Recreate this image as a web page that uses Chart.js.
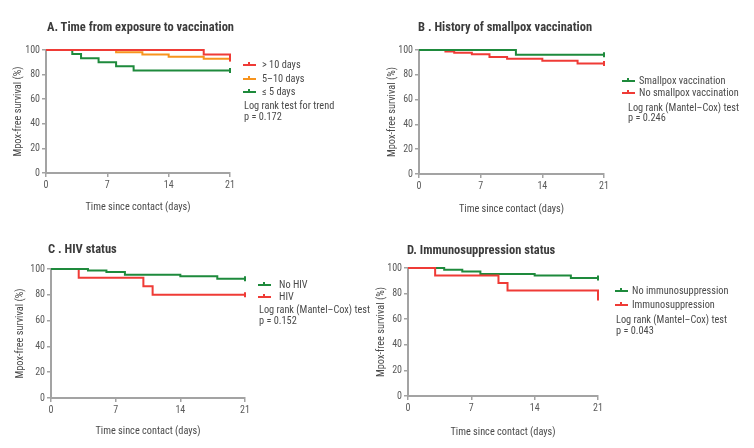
<!DOCTYPE html>
<html>
<head>
<meta charset="utf-8">
<script src="https://cdn.jsdelivr.net/npm/chart.js@4.4.1/dist/chart.umd.min.js"></script>
<style>
  body { margin: 0; background: #fff; }
  #page { position: relative; width: 754px; height: 448px; overflow: hidden;
          font-family: "Roboto Condensed", "Liberation Sans", Arial, sans-serif; color: #444; }
  canvas { position: absolute; }
  .ttl { position: absolute; font-weight: bold; font-size: 12.5px; color: #3c3c3c; white-space: nowrap; line-height: 16px; }
  .txt { position: absolute; font-size: 10.3px; color: #4a4a4a; white-space: nowrap; line-height: 14px; }
  .mk { position: absolute; height: 2px; width: 13px; }
  .mk i { position: absolute; left: 5px; top: -2px; width: 2px; height: 4px; background: inherit; }
</style>
</head>
<body>
<div id="page"></div>
<script>
// Kaplan-Meier curves, mpox-free survival (%) by day since contact

// A. Time from exposure to vaccination
const aDaysOver10 = [0, 18, 21, 21];
const aSurvOver10 = [100, 96.3, 96.3, 92.6];
const aDays5to10 = [0, 8, 11, 14, 18, 21];
const aSurv5to10 = [100, 98.2, 96.4, 94.6, 92.8, 92.8];
const aDaysUpTo5 = [0, 3, 4, 6, 8, 10, 21];
const aSurvUpTo5 = [100, 96.7, 93.3, 90, 86.7, 83.3, 83.3];

// B. History of smallpox vaccination
const bDaysVacc = [0, 11, 21];
const bSurvVacc = [100, 96.2, 96.2];
const bDaysNoVacc = [0, 3, 4, 6, 8, 10, 14, 18, 21];
const bSurvNoVacc = [100, 98.8, 97.7, 96.5, 94.4, 93.0, 91.4, 89.2, 89.2];

// C. HIV status
const cDaysNoHiv = [0, 4, 6, 8, 14, 18, 21];
const cSurvNoHiv = [100, 98.8, 97.6, 95.6, 94.4, 92.4, 92.4];
const cDaysHiv = [0, 3, 10, 11, 21];
const cSurvHiv = [100, 93.3, 86.7, 80, 80];

// D. Immunosuppression status
const dDaysNoImm = [0, 4, 6, 8, 14, 18, 21];
const dSurvNoImm = [100, 98.7, 97.3, 95.3, 94.2, 92.2, 92.2];
const dDaysImm = [0, 3, 10, 11, 21, 21];
const dSurvImm = [100, 94.1, 88.2, 82.4, 82.4, 76.5];

const xTicks = [0, 7, 14, 21];
const yTicks = [0, 20, 40, 60, 80, 100];

const RED = '#ef3b36';
const ORANGE = '#f7941e';
const GREEN = '#1e8a3c';
const AXIS = '#a3a3a3';
const FONT = '"Roboto Condensed", "Liberation Sans", Arial, sans-serif';

const panels = [
  {
    title: 'A. Time from exposure to vaccination', titleAt: [47, 27],
    box: { x: 0, y: 0, w: 380, h: 224 }, area: { l: 46, r: 230, t: 50, b: 173 },
    yTitleX: 18, xTitleY: 207,
    series: [
      { label: '> 10 days', color: RED, days: aDaysOver10, surv: aSurvOver10 },
      { label: '5–10 days', color: ORANGE, days: aDays5to10, surv: aSurv5to10 },
      { label: '≤ 5 days', color: GREEN, days: aDaysUpTo5, surv: aSurvUpTo5 }
    ],
    legend: { x: 243, tx: 262, rows: [65, 79, 92] },
    notes: { x: 244, rows: [106, 117], text: ['Log rank test for trend', 'p = 0.172'] }
  },
  {
    title: 'B . History of smallpox vaccination', titleAt: [418, 27],
    box: { x: 370, y: 0, w: 384, h: 224 }, area: { l: 419, r: 604, t: 50, b: 174 },
    yTitleX: 392, xTitleY: 209,
    series: [
      { label: 'Smallpox vaccination', color: GREEN, days: bDaysVacc, surv: bSurvVacc },
      { label: 'No smallpox vaccination', color: RED, days: bDaysNoVacc, surv: bSurvNoVacc }
    ],
    legend: { x: 622, tx: 639, rows: [81, 93] },
    notes: { x: 628, rows: [108, 118], text: ['Log rank (Mantel–Cox) test', 'p = 0.246'] }
  },
  {
    title: 'C . HIV status', titleAt: [48, 249],
    box: { x: 0, y: 224, w: 370, h: 224 }, area: { l: 51, r: 245, t: 269, b: 398 },
    yTitleX: 20, xTitleY: 431,
    series: [
      { label: 'No HIV', color: GREEN, days: cDaysNoHiv, surv: cSurvNoHiv },
      { label: 'HIV', color: RED, days: cDaysHiv, surv: cSurvHiv }
    ],
    legend: { x: 258, tx: 279, rows: [285, 297] },
    notes: { x: 259, rows: [310, 321], text: ['Log rank (Mantel–Cox) test', 'p = 0.152'] }
  },
  {
    title: 'D. Immunosuppression status', titleAt: [407, 250],
    box: { x: 370, y: 224, w: 384, h: 224 }, area: { l: 408, r: 598, t: 268, b: 396 },
    yTitleX: 381, xTitleY: 432,
    series: [
      { label: 'No immunosuppression', color: GREEN, days: dDaysNoImm, surv: dSurvNoImm, order: 1 },
      { label: 'Immunosuppression', color: RED, days: dDaysImm, surv: dSurvImm, order: 0 }
    ],
    legend: { x: 615, tx: 632, rows: [291, 305] },
    notes: { x: 616, rows: [320, 331], text: ['Log rank (Mantel–Cox) test', 'p = 0.043'] }
  }
];

const page = document.getElementById('page');

function addDiv(cls, text, x, yCenter, lh) {
  const d = document.createElement('div');
  d.className = cls;
  d.textContent = text;
  d.style.left = x + 'px';
  d.style.top = (yCenter - lh / 2) + 'px';
  page.appendChild(d);
  return d;
}

function drawPanel(p) {
  const b = p.box, a = p.area;
  const canvas = document.createElement('canvas');
  canvas.width = b.w; canvas.height = b.h;
  canvas.style.left = b.x + 'px'; canvas.style.top = b.y + 'px';
  page.appendChild(canvas);

  const titleFont = { family: FONT, size: 10.3, lineHeight: 1.2 };
  const lh = 10.3 * 1.2;
  const yScaleW = a.l - b.x;
  const xScaleH = (p.xTitleY + lh / 2) - a.b;

  new Chart(canvas, {
    type: 'line',
    data: {
      datasets: p.series.map(s => ({
        label: s.label,
        data: s.days.map((d, i) => ({ x: d, y: s.surv[i] })),
        borderColor: s.color,
        backgroundColor: s.color,
        borderWidth: 2,
        stepped: true,
        fill: false,
        clip: false,
        order: s.order ?? 0,
        pointStyle: 'line',
        rotation: 90,
        pointBorderWidth: 2,
        pointRadius: ctx => ctx.dataIndex === s.days.length - 1 ? 2.5 : 0,
        pointHoverRadius: 0
      }))
    },
    options: {
      responsive: false,
      animation: false,
      events: [],
      layout: { padding: { left: 0, top: a.t - b.y, right: b.x + b.w - a.r, bottom: b.y + b.h - (p.xTitleY + lh / 2) } },
      plugins: { legend: { display: false }, tooltip: { enabled: false } },
      scales: {
        x: {
          type: 'linear', min: 0, max: 21,
          afterBuildTicks: sc => { sc.ticks = xTicks.map(v => ({ value: v })); },
          afterFit: sc => { sc.height = xScaleH; },
          grid: { drawOnChartArea: false, drawTicks: true, tickLength: 4, color: AXIS, lineWidth: 1.5 },
          border: { display: true, color: AXIS, width: 2 },
          ticks: { color: '#5a5a5a', font: { size: 10, family: FONT }, padding: 2, maxRotation: 0 },
          title: { display: true, text: 'Time since contact (days)', color: '#4a4a4a', font: titleFont, padding: 0 }
        },
        y: {
          min: 0, max: 100,
          afterBuildTicks: sc => { sc.ticks = yTicks.map(v => ({ value: v })); },
          afterFit: sc => { sc.width = yScaleW; },
          grid: { drawOnChartArea: false, drawTicks: true, tickLength: 4, color: AXIS, lineWidth: 1.5 },
          border: { display: true, color: AXIS, width: 2 },
          ticks: { color: '#5a5a5a', font: { size: 10, family: FONT }, padding: 2 },
          title: { display: true, text: 'Mpox-free survival (%)', color: '#4a4a4a', font: titleFont,
                   padding: { top: p.yTitleX - b.x - lh / 2, bottom: 0 } }
        }
      }
    }
  });

  addDiv('ttl', p.title, p.titleAt[0], p.titleAt[1], 16);

  p.series.forEach((s, i) => {
    const y = p.legend.rows[i];
    const mk = document.createElement('div');
    mk.className = 'mk';
    mk.style.background = s.color;
    mk.style.left = p.legend.x + 'px';
    mk.style.top = (y - 1) + 'px';
    mk.appendChild(document.createElement('i'));
    page.appendChild(mk);
    addDiv('txt', s.label, p.legend.tx, y, 14);
  });
  p.notes.text.forEach((t, i) => addDiv('txt', t, p.notes.x, p.notes.rows[i], 14));
}

function createCharts() {
  panels.forEach(drawPanel);
}

if (typeof Chart === 'undefined') {
  window.addEventListener('load', createCharts);
} else {
  createCharts();
}
</script>
</body>
</html>
